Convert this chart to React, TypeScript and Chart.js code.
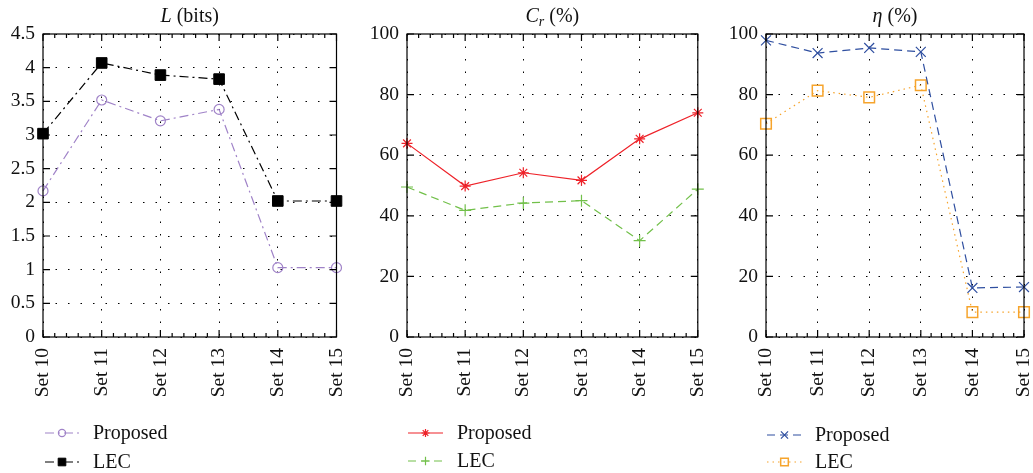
import React, { useEffect, useRef } from 'react';
import { Chart, registerables } from 'chart.js';

Chart.register(...registerables);

// ---------- data ----------
const categories = ['Set 10', 'Set 11', 'Set 12', 'Set 13', 'Set 14', 'Set 15'];
const seriesNames = ['Proposed', 'LEC'];

const lProposed = [2.17, 3.52, 3.21, 3.38, 1.03, 1.03];
const lLEC = [3.02, 4.07, 3.89, 3.83, 2.02, 2.02];

const crProposed = [63.9, 49.8, 54.2, 51.7, 65.4, 74.0];
const crLEC = [49.5, 41.8, 44.2, 45.0, 31.8, 48.8];

const etaProposed = [97.9, 93.7, 95.4, 94.1, 16.2, 16.5];
const etaLEC = [70.4, 81.3, 79.1, 83.1, 8.2, 8.2];

const lTickLabels = ['0', '0.5', '1', '1.5', '2', '2.5', '3', '3.5', '4', '4.5'];
const pctTickLabels = ['0', '20', '40', '60', '80', '100'];

const FONT = '"Liberation Serif", "Times New Roman", serif';
const FS = 20;
const TICK_FS = 19.5;

type TitlePart = { text: string; italic?: boolean; scale?: number; dy?: number };

type Panel = {
  left: number;
  width: number;
  yAxisWidth: number;
  rightPad: number;
  yMax: number;
  yStep: number;
  tickLabels: string[];
  title: TitlePart[];
  legend: { x1: number; x2: number; tx: number; rows: number[] };
  datasets: any[];
};

function drawMarker(ctx: CanvasRenderingContext2D, style: string, x: number, y: number, r: number, stroke: string, fill: string, lw: number) {
  ctx.save();
  ctx.setLineDash([]);
  ctx.strokeStyle = stroke;
  ctx.fillStyle = fill;
  ctx.lineWidth = lw;
  ctx.beginPath();
  if (style === 'circle') {
    ctx.arc(x, y, r, 0, Math.PI * 2);
    ctx.fill();
    ctx.stroke();
  } else if (style === 'rect') {
    const s = Math.SQRT1_2 * r;
    ctx.rect(x - s, y - s, 2 * s, 2 * s);
    ctx.fill();
    ctx.stroke();
  } else if (style === 'cross') {
    ctx.moveTo(x - r, y); ctx.lineTo(x + r, y);
    ctx.moveTo(x, y - r); ctx.lineTo(x, y + r);
    ctx.stroke();
  } else if (style === 'crossRot') {
    const d = Math.SQRT1_2 * r;
    ctx.moveTo(x - d, y - d); ctx.lineTo(x + d, y + d);
    ctx.moveTo(x - d, y + d); ctx.lineTo(x + d, y - d);
    ctx.stroke();
  } else if (style === 'star') {
    const d = Math.SQRT1_2 * r;
    ctx.moveTo(x - r, y); ctx.lineTo(x + r, y);
    ctx.moveTo(x, y - r); ctx.lineTo(x, y + r);
    ctx.moveTo(x - d, y - d); ctx.lineTo(x + d, y + d);
    ctx.moveTo(x - d, y + d); ctx.lineTo(x + d, y - d);
    ctx.stroke();
  }
  ctx.restore();
}

const decorPlugin = {
  id: 'decor',
  afterDraw(chart: any, _args: any, opts: any) {
    const { ctx, chartArea: a, scales } = chart;
    const xs = scales.x;
    const ys = scales.y;
    ctx.save();
    // frame
    ctx.strokeStyle = '#000';
    ctx.lineWidth = 1.2;
    ctx.setLineDash([]);
    ctx.strokeRect(a.left, a.top, a.right - a.left, a.bottom - a.top);
    // ticks
    const T = 7;
    const t = 4;
    ctx.beginPath();
    const n = categories.length;
    for (let i = 0; i < n; i++) {
      const px = xs.getPixelForValue(i);
      ctx.moveTo(px, a.bottom); ctx.lineTo(px, a.bottom - T);
      ctx.moveTo(px, a.top); ctx.lineTo(px, a.top + T);
      if (i < n - 1) {
        for (let k = 1; k < 5; k++) {
          const mx = xs.getPixelForValue(i + k / 5);
          ctx.moveTo(mx, a.bottom); ctx.lineTo(mx, a.bottom - t);
          ctx.moveTo(mx, a.top); ctx.lineTo(mx, a.top + t);
        }
      }
    }
    ys.ticks.forEach((tk: any) => {
      const py = ys.getPixelForValue(tk.value);
      ctx.moveTo(a.left, py); ctx.lineTo(a.left + T, py);
      ctx.moveTo(a.right, py); ctx.lineTo(a.right - T, py);
    });
    ctx.stroke();

    // title
    const parts: TitlePart[] = opts.title;
    const cx = (a.left + a.right) / 2;
    const baseY = 22;
    const fontFor = (p: TitlePart) => `${p.italic ? 'italic ' : ''}${Math.round(FS * (p.scale || 1))}px ${FONT}`;
    let total = 0;
    parts.forEach((p) => { ctx.font = fontFor(p); total += ctx.measureText(p.text).width; });
    let x = cx - total / 2;
    ctx.fillStyle = '#111';
    ctx.textBaseline = 'alphabetic';
    ctx.textAlign = 'left';
    parts.forEach((p) => {
      ctx.font = fontFor(p);
      ctx.fillText(p.text, x, baseY + (p.dy || 0));
      x += ctx.measureText(p.text).width;
    });

    // legend
    const lg = opts.legend;
    chart.data.datasets.forEach((ds: any, i: number) => {
      const y = lg.rows[i];
      ctx.save();
      ctx.strokeStyle = ds.borderColor;
      ctx.lineWidth = ds.borderWidth;
      ctx.setLineDash(ds.borderDash || []);
      ctx.beginPath();
      ctx.moveTo(lg.x1, y);
      ctx.lineTo(lg.x2, y);
      ctx.stroke();
      ctx.restore();
      drawMarker(ctx, ds.pointStyle, (lg.x1 + lg.x2) / 2, y, ds.pointRadius * 0.72, ds.pointBorderColor, ds.pointBackgroundColor, ds.pointBorderWidth);
      ctx.font = `${FS}px ${FONT}`;
      ctx.fillStyle = '#111';
      ctx.textBaseline = 'alphabetic';
      ctx.fillText(ds.label, lg.tx, y + 5.5);
    });
    ctx.restore();
  },
};

function ds(label: string, data: number[], color: string, dash: number[], pointStyle: string, radius: number, fill: string, pbw: number) {
  return {
    label,
    data,
    borderColor: color,
    borderWidth: 1.2,
    borderDash: dash,
    pointStyle,
    pointRadius: radius,
    pointHoverRadius: radius,
    pointBorderColor: color,
    pointBackgroundColor: fill,
    pointBorderWidth: pbw,
    tension: 0,
    fill: false,
  };
}

const PURPLE = '#a083c8';
const RED = '#ee2229';
const GREEN = '#72c04a';
const BLUE = '#2f4fa0';
const ORANGE = '#f6a42c';

const panels: Panel[] = [
  {
    left: 0, width: 345, yAxisWidth: 43, rightPad: 8, yMax: 4.5, yStep: 0.5, tickLabels: lTickLabels,
    title: [{ text: 'L', italic: true }, { text: ' (bits)' }],
    legend: { x1: 45, x2: 79, tx: 93, rows: [433, 462] },
    datasets: [
      ds(seriesNames[0], lProposed, PURPLE, [9, 4, 2, 4], 'circle', 5, 'rgba(0,0,0,0)', 1.2),
      ds(seriesNames[1], lLEC, '#000', [9, 4, 2, 4], 'rect', 7.5, '#000', 1),
    ],
  },
  {
    left: 350, width: 355, yAxisWidth: 57, rightPad: 6, yMax: 100, yStep: 20, tickLabels: pctTickLabels,
    title: [{ text: 'C', italic: true }, { text: 'r', italic: true, scale: 0.72, dy: 4 }, { text: ' (%)' }],
    legend: { x1: 58, x2: 93, tx: 107, rows: [433, 461] },
    datasets: [
      ds(seriesNames[0], crProposed, RED, [], 'star', 5.5, RED, 1.2),
      ds(seriesNames[1], crLEC, GREEN, [8, 5], 'cross', 6, GREEN, 1.2),
    ],
  },
  {
    left: 705, width: 328, yAxisWidth: 61, rightPad: 5, yMax: 100, yStep: 20, tickLabels: pctTickLabels,
    title: [{ text: 'η', italic: true }, { text: ' (%)' }],
    legend: { x1: 62, x2: 97, tx: 110, rows: [435, 462] },
    datasets: [
      ds(seriesNames[0], etaProposed, BLUE, [8, 5], 'crossRot', 7, BLUE, 1.2),
      ds(seriesNames[1], etaLEC, ORANGE, [1.5, 4], 'rect', 7.5, 'rgba(0,0,0,0)', 1.5),
    ],
  },
];

function PanelChart({ p }: { p: Panel }) {
  const ref = useRef<HTMLCanvasElement | null>(null);
  useEffect(() => {
    if (!ref.current) return;
    const chart = new Chart(ref.current, {
      type: 'line',
      data: { labels: categories, datasets: p.datasets },
      plugins: [decorPlugin],
      options: {
        responsive: false,
        animation: false,
        events: [],
        layout: { padding: { left: 0, top: 34, right: p.rightPad, bottom: 0 } },
        plugins: {
          legend: { display: false },
          title: { display: false },
          tooltip: { enabled: false },
          decor: { title: p.title, legend: p.legend },
        } as any,
        scales: {
          x: {
            type: 'category',
            offset: false,
            grid: { color: '#000', lineWidth: 1, drawTicks: false },
            border: { display: false, dash: [1.5, 11] },
            ticks: {
              autoSkip: false,
              maxRotation: 90,
              minRotation: 90,
              padding: 11,
              color: '#111',
              font: { family: FONT, size: TICK_FS },
            },
            afterFit: (s: any) => {
              s.height = 136;
              s.paddingLeft = 0;
              s.paddingRight = 0;
            },
          },
          y: {
            min: 0,
            max: p.yMax,
            grid: { color: '#000', lineWidth: 1, drawTicks: false },
            border: { display: false, dash: [1.5, 11] },
            ticks: {
              stepSize: p.yStep,
              padding: 8,
              color: '#111',
              font: { family: FONT, size: TICK_FS },
              callback: (_v: any, i: number) => p.tickLabels[i],
            },
            afterFit: (s: any) => {
              s.width = p.yAxisWidth;
              s.paddingTop = 0;
              s.paddingBottom = 0;
            },
          },
        },
      } as any,
    });
    return () => chart.destroy();
  }, [p]);
  return (
    <canvas
      ref={ref}
      width={p.width}
      height={473}
      style={{ position: 'absolute', left: p.left, top: 0, width: p.width, height: 473 }}
    />
  );
}

export default function App() {
  return (
    <div style={{ position: 'absolute', left: 0, top: 0, width: 1033, height: 473, overflow: 'hidden', background: '#fff' }}>
      {panels.map((p, i) => (
        <PanelChart key={i} p={p} />
      ))}
    </div>
  );
}
